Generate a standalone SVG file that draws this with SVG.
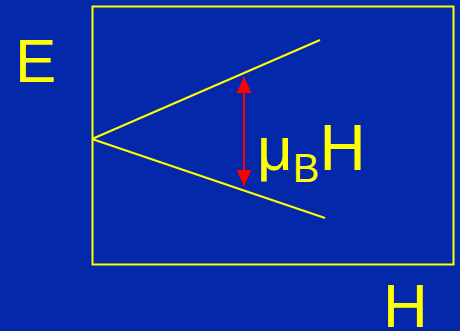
<svg xmlns="http://www.w3.org/2000/svg" width="460" height="331" viewBox="0 0 460 331">
<style>
.t{font-family:"Liberation Sans",Arial,sans-serif;fill:#FFFF00}
.ln{stroke:#FFFF00;stroke-width:2;fill:none}
</style>
<defs>
<marker id="ah" viewBox="0 0 16 15" refX="16" refY="7.5" markerWidth="16" markerHeight="15" markerUnits="userSpaceOnUse" orient="auto-start-reverse">
<path d="M0,0 L16,7.5 L0,15 Z" fill="#FF0000"/>
</marker>
</defs>
<rect width="460" height="331" fill="#0428AA"/>
<g id="frame"><rect class="ln" x="92.5" y="6.5" width="361" height="258"/></g>
<g id="connectors">
<line class="ln" x1="92" y1="139" x2="320" y2="40"/>
<line class="ln" x1="92" y1="139" x2="325" y2="218"/>
<line x1="244" y1="77" x2="244" y2="186" stroke="#FF0000" stroke-width="2" marker-start="url(#ah)" marker-end="url(#ah)"/>
</g>
<g id="labels">
<text class="t" x="15" y="82" font-size="62">E</text>
<text class="t" x="383" y="327" font-size="62">H</text>
<text class="t" x="257" y="170" font-size="62">μ<tspan font-size="40" dy="12">B</tspan><tspan font-size="64" dy="-12">H</tspan></text>
</g>
</svg>
